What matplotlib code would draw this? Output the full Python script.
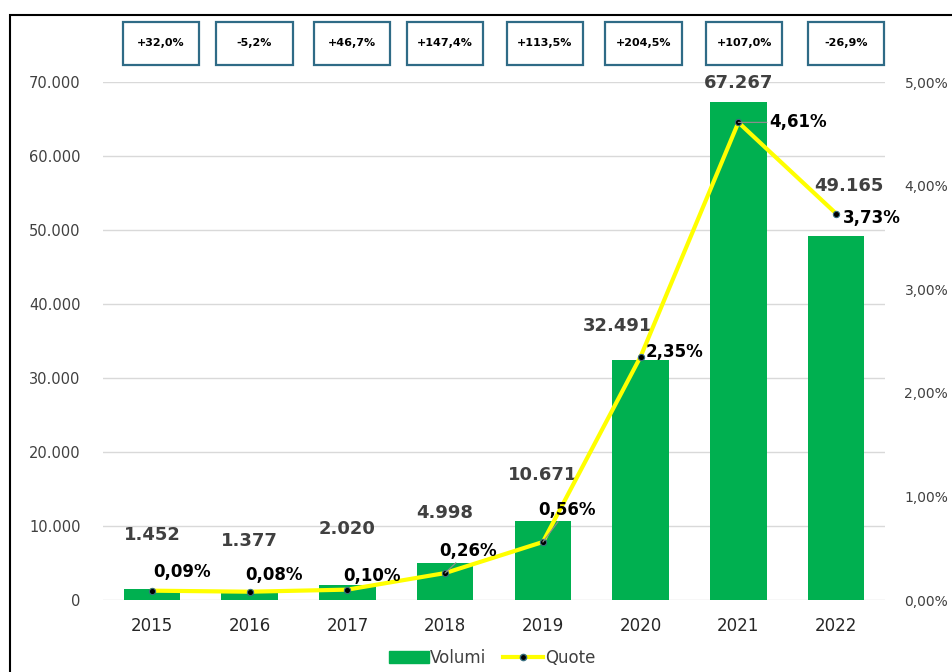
import matplotlib
matplotlib.use("Agg")
import matplotlib.pyplot as plt
import matplotlib.transforms as mtransforms
from matplotlib.patches import Rectangle, Patch
from matplotlib.lines import Line2D

plt.rcParams["font.family"] = ["DejaVu Sans"]

# Data
years = ["2015", "2016", "2017", "2018", "2019", "2020", "2021", "2022"]
volumi = [1452, 1377, 2020, 4998, 10671, 32491, 67267, 49165]
quote = [0.09, 0.08, 0.10, 0.26, 0.56, 2.35, 4.61, 3.73]
growth = ["+32,0%", "-5,2%", "+46,7%", "+147,4%", "+113,5%", "+204,5%", "+107,0%", "-26,9%"]

# label offsets in pixels (layout only)
vol_off = [(0, 54), (0, 49), (0, 56), (0, 50), (0, 46), (-23, 34), (0, 19), (13, 50)]
quote_off = [(30, 19), (24, 17), (25, 14), (23, 22), (24, 32), (34, 5), (60, 0), (36, -4)]
leader = [False, False, False, True, True, False, True, False]
box_dx = [0.09, 0.05, 0.05, 0.0, 0.02, 0.03, 0.06, 0.10]

GREEN = "#00B050"
GREY_TXT = "#404040"


def fmt_it(v):
    return f"{v:,}".replace(",", ".")


fig = plt.figure(figsize=(9.52, 6.72), dpi=100)
ax = fig.add_axes([103 / 952, 1 - 600 / 672, 782 / 952, 518 / 672])
ax2 = ax.twinx()

x = list(range(len(years)))
ax.bar(x, volumi, width=0.58, color=GREEN, zorder=2)
ax.set_xlim(-0.5, len(years) - 0.5)
ax.set_ylim(0, 70000)
ax.set_yticks(range(0, 70001, 10000))
ax.set_yticklabels([fmt_it(v) for v in range(0, 70001, 10000)])
ax.grid(axis="y", color="#d9d9d9", linewidth=1, zorder=0)
ax.set_axisbelow(True)
ax.set_xticks(x)
ax.set_xticklabels(years)
ax.tick_params(axis="x", length=0, pad=12, labelsize=12, labelcolor="#262626")
ax.tick_params(axis="y", length=0, pad=16, labelsize=10.5, labelcolor=GREY_TXT)
for s in ax.spines.values():
    s.set_visible(False)
for s in ax2.spines.values():
    s.set_visible(False)

for i, v in enumerate(volumi):
    ax.annotate(fmt_it(v), (i, v), xytext=vol_off[i], textcoords="offset pixels",
                ha="center", va="center", fontsize=13, fontweight="bold",
                color=GREY_TXT)

# Quote line
ax2.plot(x, quote, color="#FFFF00", linewidth=3, zorder=3,
         solid_joinstyle="round")
ax2.plot(x, quote, linestyle="none", marker="o", markersize=4.5,
         markerfacecolor="black", markeredgecolor="#3a6f80", markeredgewidth=0.8, zorder=4)
ax2.set_ylim(0, 5)
ax2.set_yticks(range(0, 6))
ax2.set_yticklabels([f"{v},00%" for v in range(0, 6)])
ax2.tick_params(axis="y", length=0, pad=14, labelsize=10, labelcolor=GREY_TXT)

for i, q in enumerate(quote):
    lbl = f"{q:.2f}%".replace(".", ",")
    props = None
    if leader[i]:
        props = dict(arrowstyle="-", color="#8c8c8c", lw=0.9, shrinkA=0, shrinkB=0)
    ax2.annotate(lbl, (i, q), xytext=quote_off[i], textcoords="offset pixels",
                 ha="center", va="center", fontsize=12, fontweight="bold",
                 color="black", arrowprops=props, zorder=5)

# Growth boxes on top
trans = mtransforms.blended_transform_factory(ax.transData, fig.transFigure)
for i, g in enumerate(growth):
    cx = i + box_dx[i]
    fig.patches.append(Rectangle((cx - 0.39, 1 - 65 / 672), 0.78, 43 / 672,
                                 transform=trans, facecolor="white",
                                 edgecolor="#2F6B86", linewidth=1.6))
    fig.text(cx, 1 - 43 / 672, g, transform=trans, ha="center", va="center",
             fontsize=8, fontweight="bold", color="black")

# Outer frame
fig.patches.append(Rectangle((10 / 952, -0.05), 1.2, 1 - 15 / 672 + 0.05,
                             transform=fig.transFigure, fill=False,
                             edgecolor="black", linewidth=1.5))

handles = [Patch(facecolor=GREEN, edgecolor=GREEN, label="Volumi"),
           Line2D([0], [0], color="#FFFF00", linewidth=3, marker="o", markersize=4.5,
                  markerfacecolor="black", markeredgecolor="#3a6f80", label="Quote")]
fig.legend(handles=handles, loc="center", bbox_to_anchor=(492 / 952, 1 - 658 / 672),
           ncol=2, frameon=False, fontsize=12, labelcolor=GREY_TXT,
           handlelength=2.4, handletextpad=0.1, columnspacing=1.0)

fig.savefig("out.png", dpi=100)
